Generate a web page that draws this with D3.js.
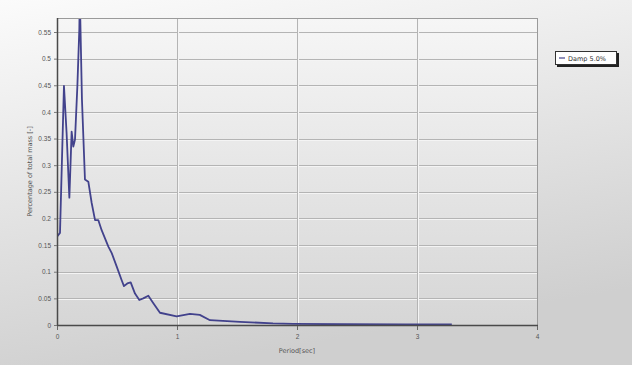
<!DOCTYPE html>
<html>
<head>
<meta charset="utf-8">
<script src="https://cdn.jsdelivr.net/npm/d3@7"></script>
<style>
  body { margin: 0; background: #fff; }
  svg { display: block; font-family: "DejaVu Sans", sans-serif; }
</style>
</head>
<body>
<div id="chart"></div>
<script>
// Spectrum data
const periods = [0, 0.025, 0.058, 0.08, 0.103, 0.122, 0.136, 0.15, 0.17, 0.186, 0.19, 0.208, 0.233, 0.261,
  0.289, 0.317, 0.344, 0.372, 0.428, 0.456, 0.497, 0.539, 0.558, 0.586, 0.614, 0.65, 0.686, 0.719, 0.761,
  0.803, 0.858, 0.997, 1.108, 1.19, 1.275, 1.525, 1.8, 1.97, 2.4, 2.9, 3.29];
const values = [0.166, 0.173, 0.449, 0.36, 0.239, 0.363, 0.335, 0.348, 0.45, 0.555, 0.62, 0.423, 0.273, 0.269,
  0.229, 0.197, 0.197, 0.178, 0.147, 0.135, 0.110, 0.084, 0.073, 0.078, 0.080, 0.059, 0.047, 0.050, 0.055,
  0.041, 0.023, 0.016, 0.021, 0.019, 0.009, 0.006, 0.003, 0.002, 0.0015, 0.001, 0.001];
const yTicks = [0, 0.05, 0.1, 0.15, 0.2, 0.25, 0.3, 0.35, 0.4, 0.45, 0.5, 0.55];
const yTickLabels = ['0', '0.05', '0.1', '0.15', '0.2', '0.25', '0.3', '0.35', '0.4', '0.45', '0.5', '0.55'];
const xTicks = [0, 1, 2, 3, 4];
const seriesName = 'Damp 5.0%';

const W = 632, H = 365;
const plot = { left: 57, top: 18, right: 537, bottom: 325 };

const svg = d3.select('#chart').append('svg')
  .attr('width', W).attr('height', H);

const defs = svg.append('defs');
const bgGrad = defs.append('linearGradient').attr('id', 'bg')
  .attr('x1', 0).attr('y1', 0).attr('x2', 0.3).attr('y2', 1);
bgGrad.append('stop').attr('offset', '0%').attr('stop-color', '#fbfbfb');
bgGrad.append('stop').attr('offset', '100%').attr('stop-color', '#cfcfcf');
const plotGrad = defs.append('linearGradient').attr('id', 'plotbg')
  .attr('x1', 0).attr('y1', 0).attr('x2', 0).attr('y2', 1);
plotGrad.append('stop').attr('offset', '0%').attr('stop-color', '#f6f6f6');
plotGrad.append('stop').attr('offset', '100%').attr('stop-color', '#d6d6d6');
defs.append('clipPath').attr('id', 'clip').append('rect')
  .attr('x', plot.left).attr('y', plot.top)
  .attr('width', plot.right - plot.left).attr('height', plot.bottom - plot.top);

svg.append('rect').attr('x', 0).attr('y', 0).attr('width', W).attr('height', H)
  .attr('fill', 'url(#bg)');
svg.append('rect').attr('x', plot.left).attr('y', plot.top)
  .attr('width', plot.right - plot.left).attr('height', plot.bottom - plot.top)
  .attr('fill', 'url(#plotbg)');

const x = d3.scaleLinear().domain([0, 4]).range([plot.left, plot.right]);
const y = d3.scaleLinear().domain([0, 0.5763]).range([plot.bottom, plot.top]);

// Gridlines (embossed look: gray line + white line)
const grid = svg.append('g');
yTicks.slice(1).forEach(t => {
  grid.append('line').attr('x1', plot.left).attr('x2', plot.right)
    .attr('y1', Math.round(y(t)) + 0.5).attr('y2', Math.round(y(t)) + 0.5)
    .attr('stroke', '#b4b4b4');
  grid.append('line').attr('x1', plot.left).attr('x2', plot.right)
    .attr('y1', Math.round(y(t)) + 1.5).attr('y2', Math.round(y(t)) + 1.5)
    .attr('stroke', '#f4f4f4');
});
xTicks.slice(1, -1).forEach(t => {
  grid.append('line').attr('y1', plot.top).attr('y2', plot.bottom)
    .attr('x1', Math.round(x(t)) + 0.5).attr('x2', Math.round(x(t)) + 0.5)
    .attr('stroke', '#b4b4b4');
  grid.append('line').attr('y1', plot.top).attr('y2', plot.bottom)
    .attr('x1', Math.round(x(t)) + 1.5).attr('x2', Math.round(x(t)) + 1.5)
    .attr('stroke', '#f4f4f4');
});

// Series line
const pts = periods.map((p, i) => [p, values[i]]);
const line = d3.line().x(d => x(d[0])).y(d => y(d[1]));
svg.append('path').datum(pts)
  .attr('clip-path', 'url(#clip)')
  .attr('d', line)
  .attr('fill', 'none')
  .attr('stroke', '#42428c')
  .attr('stroke-width', 1.8)
  .attr('stroke-linejoin', 'round');

// Frame
svg.append('rect').attr('x', plot.left + 0.5).attr('y', plot.top + 0.5)
  .attr('width', plot.right - plot.left).attr('height', plot.bottom - plot.top)
  .attr('fill', 'none').attr('stroke', '#9a9a9a');
svg.append('line').attr('x1', plot.left + 0.5).attr('x2', plot.left + 0.5)
  .attr('y1', plot.top).attr('y2', plot.bottom + 1)
  .attr('stroke', '#4a4a4a').attr('stroke-width', 1.5);
svg.append('line').attr('x1', plot.left).attr('x2', plot.right + 1)
  .attr('y1', plot.bottom + 0.5).attr('y2', plot.bottom + 0.5)
  .attr('stroke', '#4a4a4a').attr('stroke-width', 1.5);

// Axes
const yAxis = d3.axisLeft(y).tickValues(yTicks)
  .tickFormat((d, i) => yTickLabels[i]).tickSize(3).tickPadding(3);
const gy = svg.append('g').attr('transform', `translate(${plot.left},0)`).call(yAxis);
gy.select('.domain').remove();
gy.selectAll('line').attr('stroke', '#777');
gy.selectAll('text').attr('font-size', 6.5).attr('fill', '#555');

const xAxis = d3.axisBottom(x).tickValues(xTicks).tickFormat(d3.format('d'))
  .tickSize(4).tickPadding(4);
const gx = svg.append('g').attr('transform', `translate(0,${plot.bottom + 1})`).call(xAxis);
gx.select('.domain').remove();
gx.selectAll('line').attr('stroke', '#666');
gx.selectAll('text').attr('font-size', 6.5).attr('fill', '#555');

// Axis titles
svg.append('text').attr('x', (plot.left + plot.right) / 2).attr('y', 353)
  .attr('text-anchor', 'middle').attr('font-size', 6.5).attr('fill', '#555')
  .text('Period[sec]');
svg.append('text')
  .attr('transform', `translate(32,${(plot.top + plot.bottom) / 2}) rotate(-90)`)
  .attr('text-anchor', 'middle').attr('font-size', 6.5).attr('fill', '#555')
  .text('Percentage of total mass [-]');

// Legend
const lg = svg.append('g').attr('transform', 'translate(555,51)');
lg.append('rect').attr('x', 2).attr('y', 2).attr('width', 62).attr('height', 14)
  .attr('fill', '#222');
lg.append('rect').attr('x', 0.5).attr('y', 0.5).attr('width', 61).attr('height', 13)
  .attr('fill', '#fff').attr('stroke', '#333');
lg.append('line').attr('x1', 4).attr('x2', 10).attr('y1', 7).attr('y2', 7)
  .attr('stroke', '#42428c').attr('stroke-width', 1.2);
lg.append('text').attr('x', 13).attr('y', 9.5).attr('font-size', 6.5).attr('fill', '#333')
  .text(seriesName);
</script>
</body>
</html>
